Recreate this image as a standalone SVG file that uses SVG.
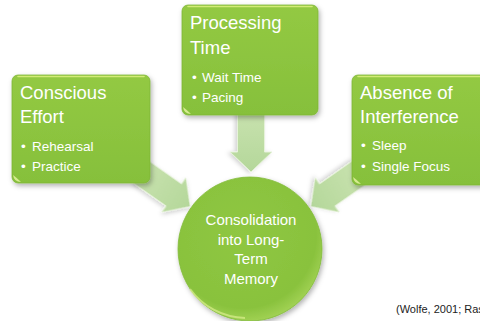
<svg xmlns="http://www.w3.org/2000/svg" width="480" height="321" viewBox="0 0 480 321">
  <defs>
    <filter id="shadow" x="-20%" y="-20%" width="140%" height="150%">
      <feDropShadow dx="1.5" dy="2.5" stdDeviation="2.5" flood-color="#000" flood-opacity="0.3"/>
    </filter>
    <filter id="softShadow" x="-20%" y="-20%" width="140%" height="150%">
      <feDropShadow dx="1" dy="2" stdDeviation="2" flood-color="#000" flood-opacity="0.18"/>
    </filter>
    <linearGradient id="boxFill" x1="0" y1="0" x2="0" y2="1">
      <stop offset="0" stop-color="#93c943"/>
      <stop offset="1" stop-color="#86c03b"/>
    </linearGradient>
    <linearGradient id="arrowFill" x1="0" y1="0" x2="1" y2="0">
      <stop offset="0" stop-color="#c8e2ae"/>
      <stop offset="1" stop-color="#b4d79a"/>
    </linearGradient>
    <radialGradient id="circleFill" cx="0.45" cy="0.4" r="0.6">
      <stop offset="0" stop-color="#8fc742"/>
      <stop offset="0.85" stop-color="#89c23d"/>
      <stop offset="1" stop-color="#9fd052"/>
    </radialGradient>
    <polygon id="arrowShape" points="0,-13.5 40,-13.5 40,-21 60,0 40,21 40,13.5 0,13.5"/>
  </defs>
  <style>
    .box { fill: url(#boxFill); stroke: #7fb536; stroke-width: 0.8; filter: url(#shadow); }
    .hilite { fill: none; stroke: #d9ee7c; stroke-width: 1.6; stroke-linecap: round; opacity: 0.9; }
    .curl { fill: #e4f2a0; opacity: 0.85; }
    .title { font-family: "Liberation Sans", Arial, sans-serif; font-size: 18.5px; fill: #ffffff; }
    .item { font-family: "Liberation Sans", Arial, sans-serif; font-size: 13.5px; fill: #ffffff; }
    .center { font-family: "Liberation Sans", Arial, sans-serif; font-size: 15px; fill: #ffffff; text-anchor: middle; }
    .arrow { fill: url(#arrowFill); stroke: #e6f2da; stroke-width: 1; filter: url(#softShadow); }
    .cite { font-family: "Liberation Sans", Arial, sans-serif; font-size: 11px; fill: #222222; }
  </style>

  <!-- connectors: block arrows into the central circle -->
  <g id="connectors">
    <use href="#arrowShape" class="arrow" transform="translate(251,112) rotate(90)"/>
    <use href="#arrowShape" class="arrow" transform="translate(141,172) rotate(35)"/>
    <use href="#arrowShape" class="arrow" transform="translate(360,172) rotate(145)"/>
  </g>

  <!-- Conscious Effort -->
  <g id="conscious-effort">
    <rect class="box" x="12" y="75" width="138" height="108" rx="6"/>
    <path class="hilite" d="M18,76.5 H144"/>
    <path class="curl" d="M13,175 Q14,182 21,182 Q17,178 13,175 Z"/>
    <text class="title" x="20" y="99">Conscious</text>
    <text class="title" x="20" y="123">Effort</text>
    <text class="item" x="21" y="151">•</text>
    <text class="item" x="32" y="151">Rehearsal</text>
    <text class="item" x="21" y="171">•</text>
    <text class="item" x="32" y="171">Practice</text>
  </g>

  <!-- Processing Time -->
  <g id="processing-time">
    <rect class="box" x="182" y="5" width="136" height="110" rx="6"/>
    <path class="hilite" d="M188,6.5 H312"/>
    <path class="curl" d="M183,107 Q184,114 191,114 Q187,110 183,107 Z"/>
    <text class="title" x="190" y="29">Processing</text>
    <text class="title" x="190" y="54">Time</text>
    <text class="item" x="192" y="82">•</text>
    <text class="item" x="202" y="82">Wait Time</text>
    <text class="item" x="192" y="102">•</text>
    <text class="item" x="202" y="102">Pacing</text>
  </g>

  <!-- Absence of Interference -->
  <g id="absence-of-interference">
    <rect class="box" x="352" y="75" width="140" height="110" rx="6"/>
    <path class="hilite" d="M358,76.5 H486"/>
    <path class="curl" d="M353,177 Q354,184 361,184 Q357,180 353,177 Z"/>
    <text class="title" x="360" y="99">Absence of</text>
    <text class="title" x="360" y="123">Interference</text>
    <text class="item" x="361" y="150">•</text>
    <text class="item" x="372" y="150">Sleep</text>
    <text class="item" x="361" y="171">•</text>
    <text class="item" x="372" y="171">Single Focus</text>
  </g>

  <!-- central outcome -->
  <g id="consolidation">
    <circle cx="250" cy="249" r="72" fill="url(#circleFill)" stroke="#82bb38" stroke-width="0.8" filter="url(#shadow)"/>
    <path d="M190,289 A70,70 0 0 0 245,318" fill="none" stroke="#d2ea86" stroke-width="2" opacity="0.8"/>
    <text class="center" x="251" y="225">Consolidation</text>
    <text class="center" x="251" y="245">into Long-</text>
    <text class="center" x="251" y="264">Term</text>
    <text class="center" x="251" y="284">Memory</text>
  </g>

  <text class="cite" x="396" y="313">(Wolfe, 2001; Ras</text>
</svg>
